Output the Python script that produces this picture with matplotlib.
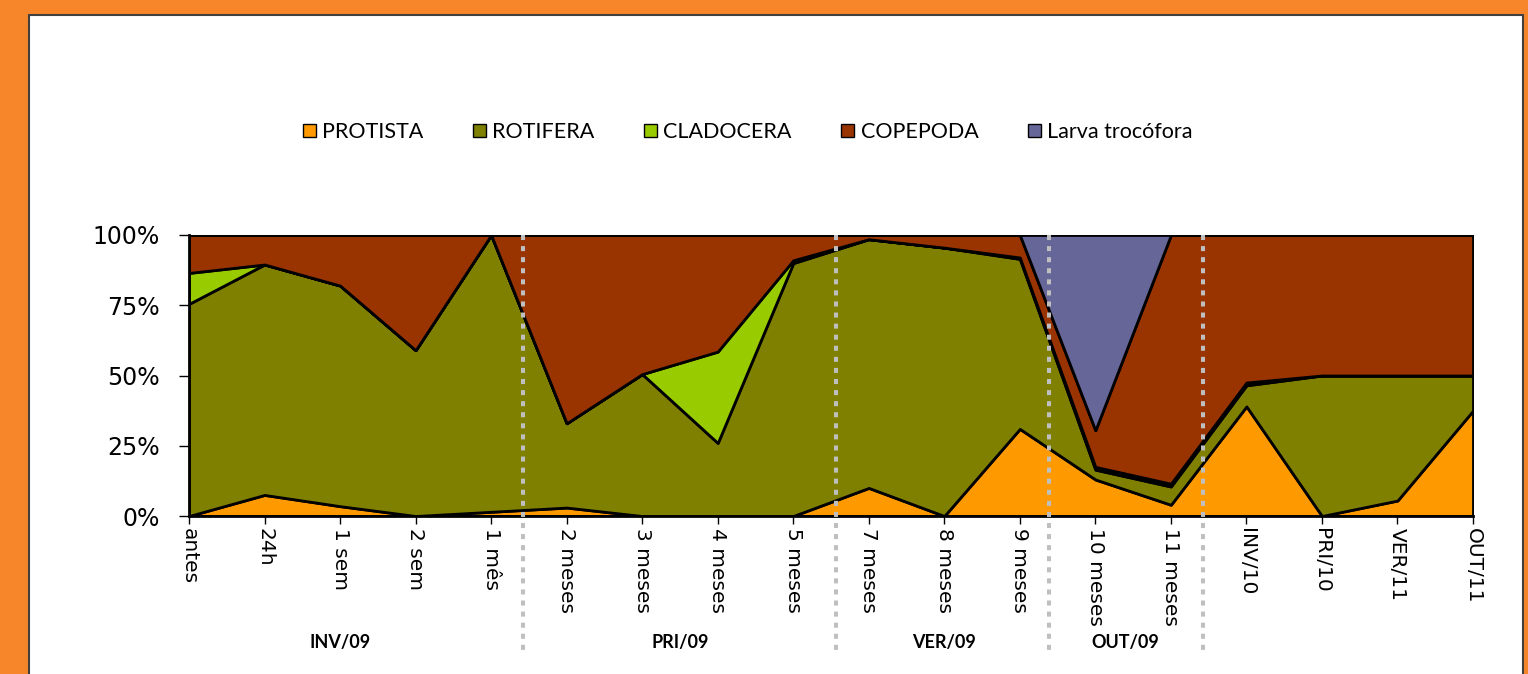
import matplotlib
matplotlib.use("Agg")
import matplotlib.pyplot as plt
from matplotlib.patches import Patch, Rectangle
import numpy as np

# categories (sampling times) and stacked shares in %
categories = ["antes", "24h", "1 sem", "2 sem", "1 mês", "2 meses", "3 meses",
              "4 meses", "5 meses", "7 meses", "8 meses", "9 meses", "10 meses",
              "11 meses", "INV/10", "PRI/10", "VER/11", "OUT/11"]
protista = [0, 7.5, 3.5, 0, 1.5, 3, 0, 0, 0, 10, 0, 31, 13, 4, 39, 0, 5.5, 37.5]
rotifera = [75.5, 82, 78.5, 59, 98.5, 30, 50.5, 26, 90, 88.5, 95.5, 60.5, 3.5, 6.5, 7.5, 50, 44.5, 12.5]
cladocera = [11, 0, 0, 0, 0, 0, 0, 32.5, 1, 0, 0, 0.5, 1, 1, 1, 0, 0, 0]
copepoda = [13.5, 10.5, 18, 41, 0, 67, 49.5, 41.5, 9, 1.5, 4.5, 8, 13, 88.5, 52.5, 50, 50, 50]
larva = [0, 0, 0, 0, 0, 0, 0, 0, 0, 0, 0, 0, 69.5, 0, 0, 0, 0, 0]

series_names = ["PROTISTA", "ROTIFERA", "CLADOCERA", "COPEPODA", "Larva trocófora"]
series_colors = ["#FF9900", "#808000", "#99CC00", "#993300", "#666699"]

# season groups along the x axis
season_labels = ["INV/09", "PRI/09", "VER/09", "OUT/09"]
season_label_pos = [2.0, 6.5, 10.0, 12.4]
season_breaks = [4.42, 8.57, 11.38, 13.42]

label_font = ["Lato", "DejaVu Sans"]

fig = plt.figure(figsize=(15.28, 6.74), dpi=100)
fig.patch.set_facecolor("#F7852A")
fig.patches.append(Rectangle((29 / 1528, -0.02), (1523 - 29) / 1528, 1 - 15 / 674 + 0.02,
                             transform=fig.transFigure, facecolor="white",
                             edgecolor="#404040", linewidth=1.5, zorder=0))

ax = fig.add_axes([189 / 1528, 1 - 516 / 674, (1473 - 189) / 1528, (516 - 235) / 674])
ax.set_zorder(2)
ax.set_facecolor("none")

x = np.arange(len(categories))
ax.stackplot(x, protista, rotifera, cladocera, copepoda, larva,
             colors=series_colors, edgecolor="black", linewidth=2)

ax.set_xlim(0, len(categories) - 1)
ax.set_ylim(0, 100)
ax.set_yticks([0, 25, 50, 75, 100], ["0%", "25%", "50%", "75%", "100%"])
ax.set_xticks(x, categories, rotation=270, ha="center", va="top")
ax.tick_params(axis="y", labelsize=17, length=7, width=1, colors="black", pad=14)
ax.tick_params(axis="x", labelsize=14.5, length=6, width=1, pad=3)
for side in ("top", "right"):
    ax.spines[side].set_visible(False)
for side in ("left", "bottom"):
    ax.spines[side].set_linewidth(2)

for xb in season_breaks:
    ax.plot([xb, xb], [100, -49], color="#BFBFBF", lw=2.9, dashes=(1.25, 1.5),
            solid_capstyle="butt", dash_capstyle="butt", clip_on=False, zorder=5)

for lab, xp in zip(season_labels, season_label_pos):
    ax.text(xp, -45, lab, ha="center", va="center", fontsize=13,
            fontweight="bold", family=label_font)

handles = [Patch(facecolor=c, edgecolor="black", linewidth=1) for c in series_colors]
fig.legend(handles, series_names, loc="center left", bbox_to_anchor=(292 / 1528, 1 - 132 / 674),
           ncol=5, frameon=False, borderpad=0, handlelength=0.6, handleheight=0.6,
           handletextpad=0.3, columnspacing=2.3, prop={"family": label_font, "size": 15.5})

fig.savefig("out.png", dpi=100)
